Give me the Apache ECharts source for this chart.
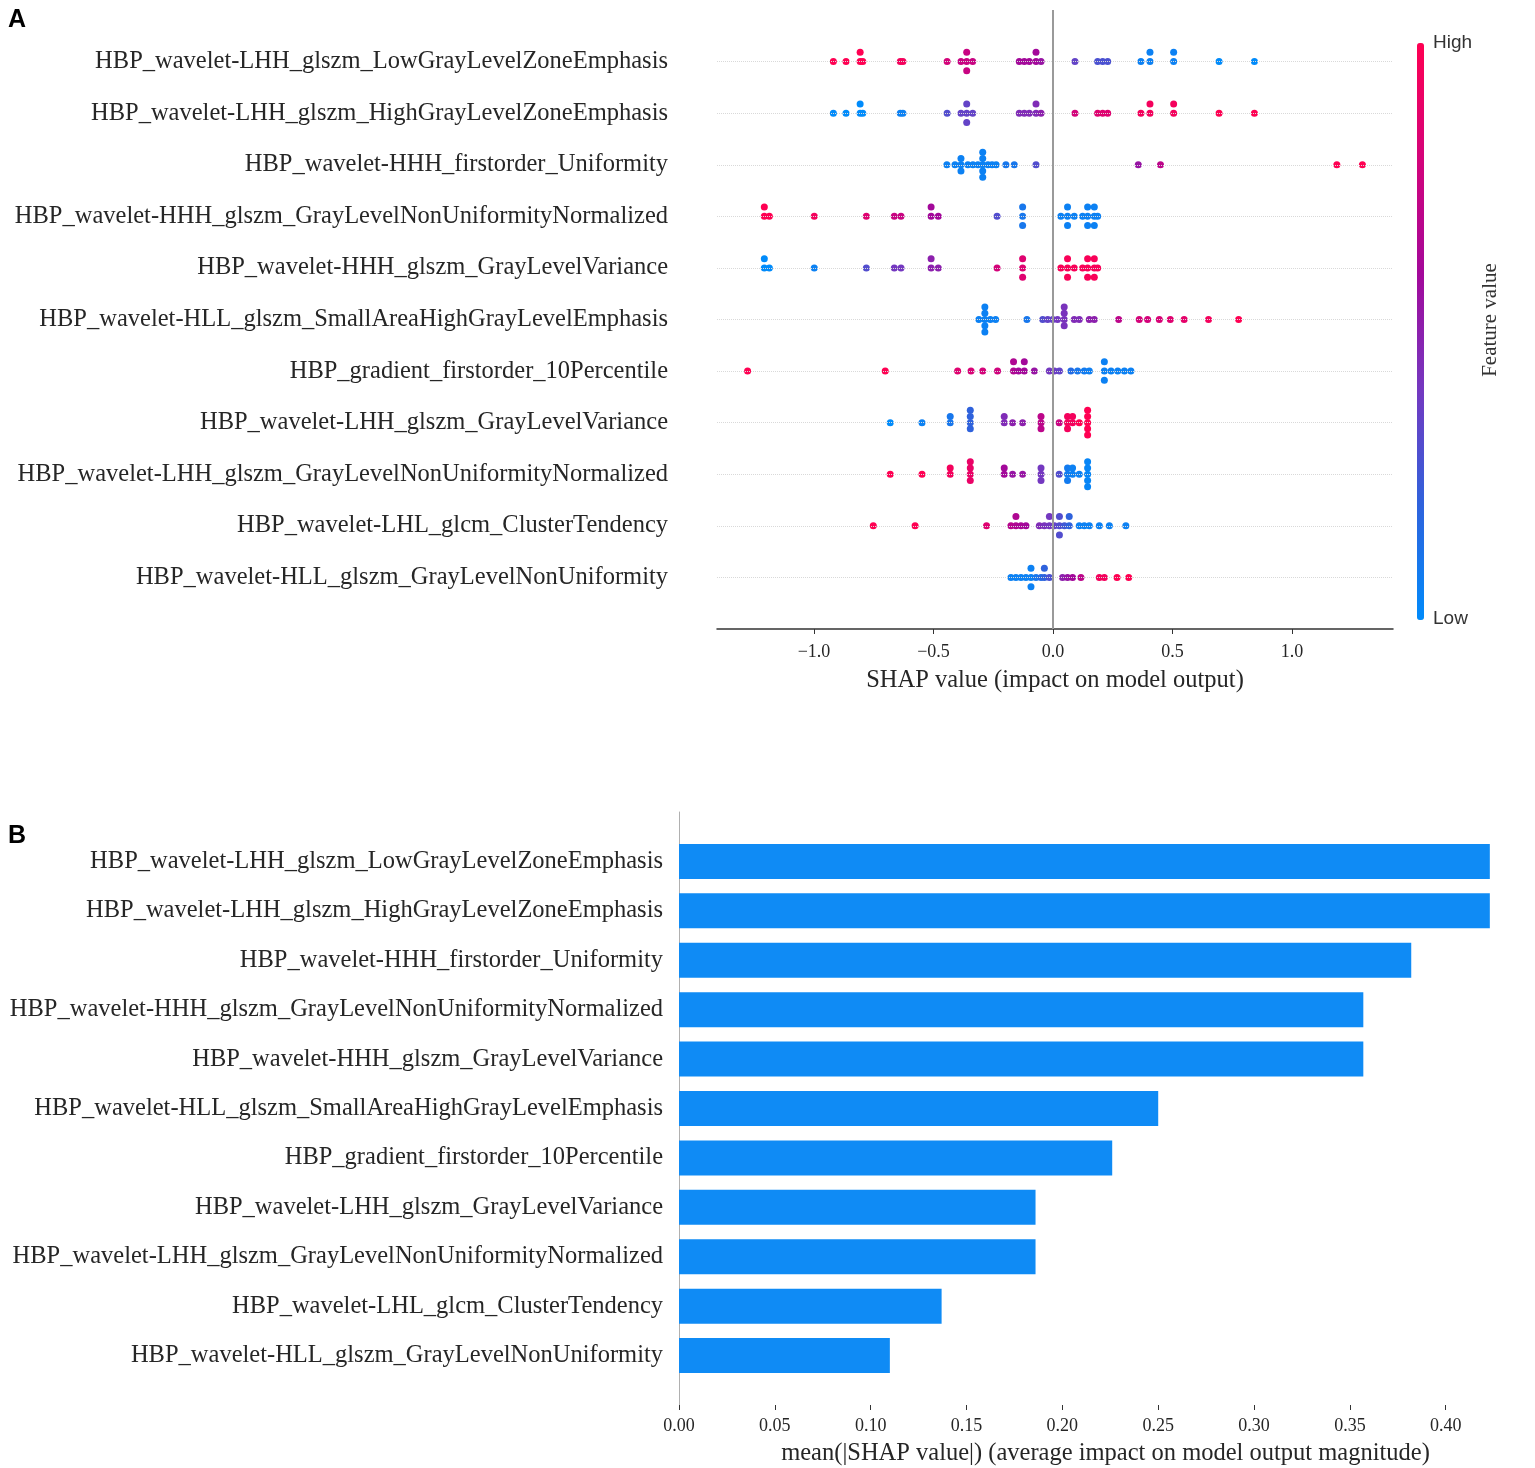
<!DOCTYPE html>
<html>
<head>
<meta charset="utf-8">
<script src="https://cdn.jsdelivr.net/npm/echarts@6/dist/echarts.min.js"></script>
<style>html,body{margin:0;padding:0;background:#fff}#c{width:1535px;height:1468px}</style>
</head>
<body>
<div id="c"></div>
<script>
// ---------- data ----------
const features = [
  'HBP_wavelet-LHH_glszm_LowGrayLevelZoneEmphasis',
  'HBP_wavelet-LHH_glszm_HighGrayLevelZoneEmphasis',
  'HBP_wavelet-HHH_firstorder_Uniformity',
  'HBP_wavelet-HHH_glszm_GrayLevelNonUniformityNormalized',
  'HBP_wavelet-HHH_glszm_GrayLevelVariance',
  'HBP_wavelet-HLL_glszm_SmallAreaHighGrayLevelEmphasis',
  'HBP_gradient_firstorder_10Percentile',
  'HBP_wavelet-LHH_glszm_GrayLevelVariance',
  'HBP_wavelet-LHH_glszm_GrayLevelNonUniformityNormalized',
  'HBP_wavelet-LHL_glcm_ClusterTendency',
  'HBP_wavelet-HLL_glszm_GrayLevelNonUniformity'
];

// SHAP values per feature (beeswarm) and matching normalised feature values (0 = low, 1 = high)
const shap_0 = [-0.919,-0.866,-0.807,-0.807,-0.796,-0.639,-0.628,-0.443,-0.385,-0.361,-0.361,-0.361,-0.336,-0.141,-0.120,-0.099,-0.071,-0.071,-0.050,0.092,0.187,0.208,0.229,0.368,0.406,0.406,0.505,0.505,0.695,0.843];
const fv_0   = [1,1,1,1,1,0.95,0.95,0.8,0.75,0.75,0.75,0.75,0.75,0.6,0.6,0.6,0.6,0.6,0.55,0.35,0.28,0.28,0.28,0.05,0.05,0.05,0.05,0.05,0,0];
const shap_1 = [-0.919,-0.866,-0.807,-0.807,-0.796,-0.639,-0.628,-0.443,-0.385,-0.361,-0.361,-0.361,-0.336,-0.141,-0.120,-0.099,-0.071,-0.071,-0.050,0.092,0.187,0.208,0.229,0.368,0.406,0.406,0.505,0.505,0.695,0.843];
const fv_1   = [0,0,0,0,0,0.05,0.05,0.3,0.35,0.35,0.35,0.35,0.35,0.45,0.45,0.45,0.45,0.45,0.5,0.8,0.85,0.85,0.85,0.95,0.95,0.95,0.95,0.95,1,1];
const shap_2 = [-0.444,-0.410,-0.385,-0.385,-0.385,-0.356,-0.335,-0.314,-0.294,-0.294,-0.294,-0.294,-0.294,-0.272,-0.255,-0.238,-0.197,-0.162,-0.071,0.357,0.450,1.188,1.295];
const fv_2   = [0.05,0.05,0.05,0.05,0.05,0.05,0.05,0.05,0.05,0.05,0.05,0.05,0.05,0.05,0.05,0.05,0.1,0.1,0.3,0.55,0.7,1,1];
const shap_3 = [-1.208,-1.208,-1.187,-0.999,-0.781,-0.664,-0.636,-0.510,-0.510,-0.480,-0.234,-0.127,-0.127,-0.127,0.033,0.061,0.061,0.061,0.089,0.124,0.145,0.145,0.145,0.173,0.173,0.173,0.187];
const fv_3   = [1,1,1,0.95,0.85,0.75,0.75,0.6,0.6,0.6,0.3,0.1,0.1,0.1,0.05,0.05,0.05,0.05,0.05,0.05,0.05,0.05,0.05,0.05,0.05,0.05,0.05];
const shap_4 = [-1.208,-1.208,-1.187,-0.999,-0.781,-0.664,-0.636,-0.510,-0.510,-0.480,-0.234,-0.127,-0.127,-0.127,0.033,0.061,0.061,0.061,0.089,0.124,0.145,0.145,0.145,0.173,0.173,0.173,0.187];
const fv_4   = [0,0,0,0.05,0.3,0.4,0.4,0.5,0.5,0.5,0.8,0.85,0.85,0.85,0.97,0.97,0.97,0.97,0.97,0.97,0.97,0.97,0.97,0.97,0.97,0.97,0.97];
const shap_5 = [-0.310,-0.285,-0.285,-0.285,-0.285,-0.285,-0.262,-0.240,-0.109,-0.043,-0.022,-0.001,0.019,0.047,0.047,0.047,0.047,0.089,0.110,0.152,0.173,0.275,0.361,0.396,0.445,0.491,0.549,0.651,0.777];
const fv_5   = [0.05,0.05,0.05,0.05,0.05,0.05,0.05,0.05,0.1,0.3,0.35,0.35,0.4,0.42,0.42,0.42,0.42,0.45,0.45,0.5,0.5,0.7,0.8,0.8,0.82,0.85,0.88,0.95,1];
const shap_6 = [-1.278,-0.702,-0.399,-0.343,-0.294,-0.232,-0.165,-0.165,-0.144,-0.120,-0.120,-0.078,-0.015,0.006,0.027,0.075,0.103,0.131,0.152,0.215,0.215,0.215,0.243,0.271,0.299,0.326];
const fv_6   = [1,1,0.85,0.82,0.8,0.78,0.65,0.65,0.6,0.6,0.6,0.55,0.4,0.38,0.35,0.15,0.1,0.08,0.06,0.05,0.05,0.05,0.05,0.05,0.05,0.05];
const shap_7 = [-0.681,-0.548,-0.430,-0.430,-0.346,-0.346,-0.346,-0.346,-0.204,-0.204,-0.169,-0.127,-0.050,-0.050,-0.050,0.026,0.061,0.061,0.061,0.082,0.082,0.110,0.145,0.145,0.145,0.145,0.145];
const fv_7   = [0,0.05,0.1,0.1,0.2,0.2,0.2,0.2,0.45,0.45,0.5,0.5,0.7,0.7,0.7,0.75,0.95,0.95,0.95,0.95,0.95,1,1,1,1,1,1];
const shap_8 = [-0.681,-0.548,-0.430,-0.430,-0.346,-0.346,-0.346,-0.346,-0.204,-0.204,-0.169,-0.127,-0.050,-0.050,-0.050,0.026,0.061,0.061,0.061,0.082,0.082,0.110,0.145,0.145,0.145,0.145,0.145];
const fv_8   = [1,1,0.95,0.95,0.9,0.9,0.9,0.9,0.6,0.6,0.55,0.55,0.4,0.4,0.4,0.3,0.08,0.08,0.08,0.05,0.05,0.05,0.03,0.03,0.03,0.03,0.03];
const shap_9 = [-0.752,-0.577,-0.278,-0.176,-0.155,-0.155,-0.134,-0.113,-0.057,-0.036,-0.015,-0.015,0.006,0.027,0.027,0.027,0.048,0.068,0.068,0.110,0.131,0.152,0.194,0.236,0.305];
const fv_9   = [1,1,0.85,0.68,0.65,0.65,0.62,0.6,0.45,0.42,0.4,0.4,0.35,0.3,0.3,0.3,0.25,0.2,0.2,0.05,0.05,0.05,0.05,0.05,0.05];
const shap_10 = [-0.176,-0.155,-0.134,-0.113,-0.092,-0.092,-0.092,-0.071,-0.050,-0.036,-0.036,-0.015,0.040,0.061,0.082,0.117,0.194,0.215,0.268,0.317];
const fv_10   = [0.05,0.05,0.05,0.05,0.05,0.05,0.05,0.1,0.15,0.2,0.2,0.28,0.5,0.55,0.6,0.7,0.95,0.95,1,1];

// mean(|SHAP value|) per feature (bar chart)
const meanAbsShap = [0.423, 0.423, 0.382, 0.357, 0.357, 0.250, 0.226, 0.186, 0.186, 0.137, 0.110];

const shapTicks = [-1.0, -0.5, 0.0, 0.5, 1.0];
const meanTicks = [0, 0.05, 0.10, 0.15, 0.20, 0.25, 0.30, 0.35, 0.40];

// ---------- beeswarm layout (SHAP style stacking) ----------
const shapRows = [shap_0, shap_1, shap_2, shap_3, shap_4, shap_5, shap_6, shap_7, shap_8, shap_9, shap_10];
const fvRows = [fv_0, fv_1, fv_2, fv_3, fv_4, fv_5, fv_6, fv_7, fv_8, fv_9, fv_10];

function swarm(vals, fvs, row) {
  const counts = {};
  const ys = vals.map(v => {
    const k = v.toFixed(3);
    const layer = counts[k] || 0;
    counts[k] = layer + 1;
    return Math.ceil(layer / 2) * (layer % 2 ? 1 : -1);
  });
  const maxY = Math.max.apply(null, ys);
  const step = 0.9 * 0.4 / (maxY + 1);
  return vals.map((v, i) => [v, row - ys[i] * step, fvs[i]]);
}
let swarmData = [];
shapRows.forEach((vals, r) => { swarmData = swarmData.concat(swarm(vals, fvRows[r], r)); });

// ---------- chart ----------
const serif = 'Liberation Serif, Times New Roman, serif';
const txt = '#262626';
const chart = echarts.init(document.getElementById('c'));

const rowLines = features.map((_, i) => ({ yAxis: i, lineStyle: { color: '#d9d9d9', type: 'dotted', width: 1 } }));
rowLines.push({ xAxis: 0, lineStyle: { color: '#9a9a9a', type: 'solid', width: 2 } });

const barCats = [''].concat(features, [' ']);
const barData = [null].concat(meanAbsShap, [null]);

chart.setOption({
  animation: false,
  backgroundColor: '#fff',
  grid: [
    { left: 717, right: 142, top: 10, bottom: 839 },
    { left: 679, right: 3, top: 812, bottom: 63 }
  ],
  xAxis: [
    {
      gridIndex: 0, type: 'value', min: -1.406, max: 1.423,
      axisLine: { onZero: false, lineStyle: { color: '#333', width: 1.5 } },
      axisTick: { show: true, customValues: shapTicks, length: 5, lineStyle: { color: '#333' } },
      axisLabel: { customValues: shapTicks, color: txt, fontFamily: serif, fontSize: 18, margin: 14,
        formatter: v => (v < 0 ? '\u2212' : '') + Math.abs(v).toFixed(1) },
      splitLine: { show: false },
      name: 'SHAP value (impact on model output)', nameLocation: 'middle', nameGap: 39,
      nameTextStyle: { color: txt, fontFamily: serif, fontSize: 24.5 }
    },
    {
      gridIndex: 1, type: 'value', min: 0, max: 0.445,
      axisLine: { onZero: false, lineStyle: { color: '#333', width: 1.5 } },
      axisTick: { show: true, customValues: meanTicks, length: 5, lineStyle: { color: '#333' } },
      axisLabel: { customValues: meanTicks, color: txt, fontFamily: serif, fontSize: 18, margin: 12,
        formatter: v => v.toFixed(2) },
      splitLine: { show: false },
      name: 'mean(|SHAP value|) (average impact on model output magnitude)', nameLocation: 'middle', nameGap: 36,
      nameTextStyle: { color: txt, fontFamily: serif, fontSize: 24.5 }
    }
  ],
  yAxis: [
    {
      gridIndex: 0, type: 'value', min: -1, max: 11, interval: 1, inverse: true,
      axisLine: { show: false }, axisTick: { show: false }, splitLine: { show: false },
      axisLabel: { color: txt, fontFamily: serif, fontSize: 24.5, margin: 49,
        formatter: v => features[v] || '' }
    },
    {
      gridIndex: 1, type: 'category', data: barCats, inverse: true, boundaryGap: false,
      axisLine: { show: true, lineStyle: { color: '#b0b0b0', width: 1 } },
      axisTick: { show: false }, splitLine: { show: false },
      axisLabel: { color: txt, fontFamily: serif, fontSize: 24.5, margin: 16, interval: 0 }
    }
  ],
  visualMap: {
    type: 'continuous', min: 0, max: 1, dimension: 2, seriesIndex: 1,
    orient: 'vertical', left: 1417, top: 43, itemWidth: 7, itemHeight: 577,
    calculable: false, padding: 0, text: null, hoverLink: false,
    inRange: { color: ['#008bfb', '#2f62dc', '#7438c0', '#a3089a', '#d4037a', '#ff0052'] }
  },
  series: [
    {
      type: 'scatter', xAxisIndex: 0, yAxisIndex: 0, data: [], z: 1, silent: true,
      markLine: { silent: true, symbol: 'none', label: { show: false }, data: rowLines }
    },
    {
      type: 'scatter', xAxisIndex: 0, yAxisIndex: 0, data: swarmData, symbolSize: 7, z: 3,
      itemStyle: { opacity: 1 }
    },
    {
      type: 'bar', xAxisIndex: 1, yAxisIndex: 1, data: barData, barWidth: 35,
      itemStyle: { color: '#0f8bf5' }
    }
  ],
  graphic: [
    { type: 'text', left: 8, top: 8, style: { text: 'A', font: 'bold 25px Liberation Sans, Arial, sans-serif', fill: '#000' } },
    { type: 'text', left: 8, top: 824, style: { text: 'B', font: 'bold 25px Liberation Sans, Arial, sans-serif', fill: '#000' } },
    { type: 'text', left: 1433, top: 33, style: { text: 'High', font: '19px Liberation Sans, Arial, sans-serif', fill: '#333' } },
    { type: 'text', left: 1433, top: 609, style: { text: 'Low', font: '19px Liberation Sans, Arial, sans-serif', fill: '#333' } },
    { type: 'text', x: 1490, y: 320, rotation: Math.PI / 2,
      style: { text: 'Feature value', font: '21px Liberation Serif, Times New Roman, serif', fill: '#333', align: 'center', verticalAlign: 'middle' } }
  ]
});
</script>
</body>
</html>
